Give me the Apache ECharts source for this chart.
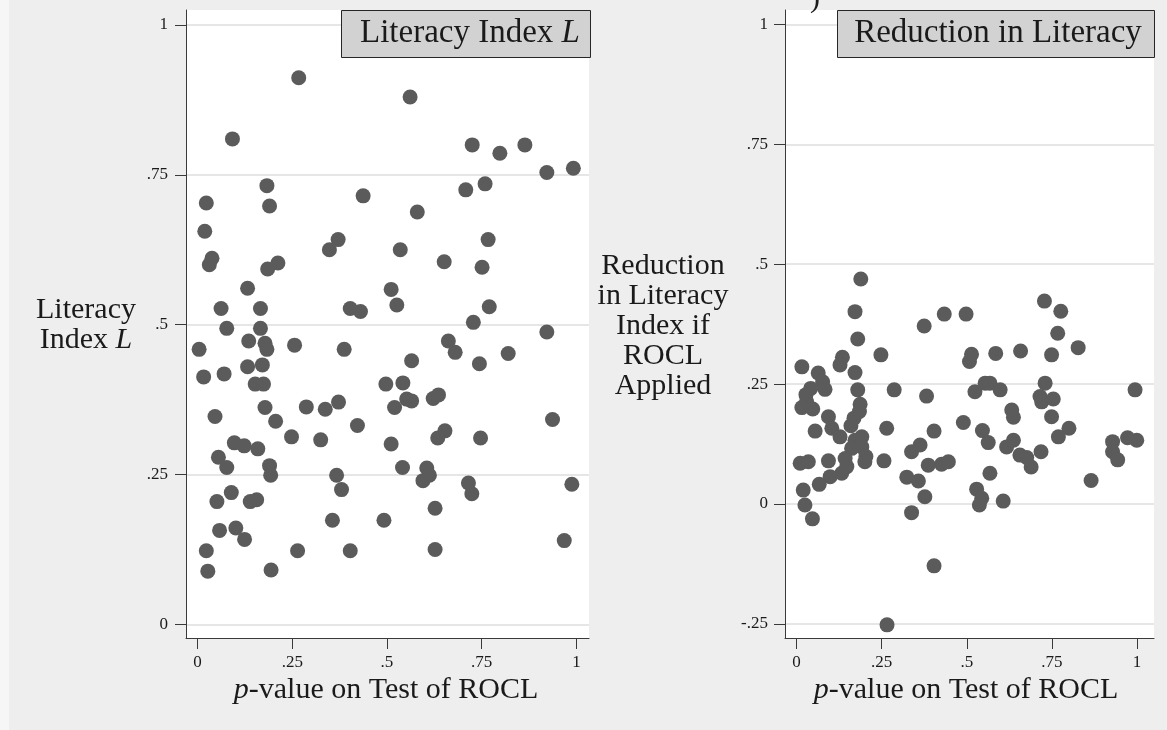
<!DOCTYPE html>
<html>
<head>
<meta charset="utf-8">
<script src="https://cdn.jsdelivr.net/npm/echarts@6/dist/echarts.min.js"></script>
<style>
  html, body { margin: 0; padding: 0; background: #eeeeee; }
  #chart { width: 1167px; height: 730px; }
</style>
</head>
<body>
<div id="chart"></div>
<script>
// Tick values for each axis
const pTicks = [0, 0.25, 0.5, 0.75, 1];
const literacyTicks = [0, 0.25, 0.5, 0.75, 1];
const reductionTicks = [-0.25, 0, 0.25, 0.5, 0.75, 1];

// [p-value on test of ROCL, literacy index L]
const literacyPoints = [
  [0.267, 0.912], [0.092, 0.810], [0.183, 0.732], [0.023, 0.703], [0.190, 0.698],
  [0.437, 0.715], [0.019, 0.656], [0.371, 0.642], [0.348, 0.625], [0.038, 0.611],
  [0.031, 0.600], [0.212, 0.603], [0.185, 0.593], [0.132, 0.561], [0.062, 0.527],
  [0.166, 0.527], [0.403, 0.527], [0.430, 0.522], [0.511, 0.559],
  [0.561, 0.880], [0.725, 0.800], [0.798, 0.786], [0.864, 0.800], [0.922, 0.754],
  [0.992, 0.761], [0.759, 0.735], [0.708, 0.725], [0.580, 0.688], [0.767, 0.642],
  [0.535, 0.625], [0.651, 0.605], [0.751, 0.596], [0.526, 0.533], [0.770, 0.530],
  [0.728, 0.504],
  [0.922, 0.488], [0.662, 0.473], [0.680, 0.454], [0.820, 0.452], [0.565, 0.440],
  [0.744, 0.435], [0.542, 0.403], [0.497, 0.401], [0.552, 0.376], [0.565, 0.373],
  [0.520, 0.362], [0.622, 0.377], [0.636, 0.383], [0.937, 0.342], [0.653, 0.323],
  [0.634, 0.311], [0.747, 0.311], [0.511, 0.301], [0.541, 0.262], [0.605, 0.261],
  [0.612, 0.249], [0.595, 0.240], [0.715, 0.236], [0.724, 0.218], [0.988, 0.234],
  [0.627, 0.194], [0.492, 0.174], [0.968, 0.140], [0.627, 0.125],
  [0.077, 0.494], [0.166, 0.494], [0.135, 0.473], [0.178, 0.469], [0.183, 0.459],
  [0.004, 0.459], [0.256, 0.466], [0.387, 0.459], [0.132, 0.430], [0.171, 0.433],
  [0.016, 0.413], [0.070, 0.418], [0.152, 0.401], [0.174, 0.401], [0.046, 0.347],
  [0.178, 0.362], [0.206, 0.339], [0.287, 0.363], [0.337, 0.359], [0.372, 0.371],
  [0.422, 0.332], [0.248, 0.313], [0.325, 0.308], [0.097, 0.303], [0.123, 0.298],
  [0.159, 0.293], [0.055, 0.279], [0.077, 0.262], [0.190, 0.265], [0.193, 0.249],
  [0.367, 0.249], [0.380, 0.225], [0.089, 0.220], [0.051, 0.205], [0.139, 0.205],
  [0.156, 0.208], [0.356, 0.174], [0.058, 0.157], [0.101, 0.161], [0.124, 0.142],
  [0.023, 0.123], [0.264, 0.123], [0.403, 0.123], [0.027, 0.089], [0.194, 0.091]
];

// [p-value on test of ROCL, reduction in literacy index if ROCL applied]
const reductionPoints = [
  [0.189, 0.469], [0.172, 0.401], [0.180, 0.344], [0.248, 0.311], [0.375, 0.371],
  [0.434, 0.396], [0.498, 0.396], [0.135, 0.306], [0.128, 0.290], [0.016, 0.286],
  [0.172, 0.274], [0.064, 0.273], [0.077, 0.255], [0.084, 0.239], [0.180, 0.238],
  [0.287, 0.238], [0.382, 0.225], [0.524, 0.234], [0.514, 0.312], [0.508, 0.297],
  [0.042, 0.241], [0.028, 0.228], [0.030, 0.213], [0.016, 0.201], [0.048, 0.198],
  [0.187, 0.208], [0.185, 0.193], [0.169, 0.179], [0.160, 0.163], [0.192, 0.140],
  [0.172, 0.133], [0.162, 0.116], [0.192, 0.119], [0.204, 0.099], [0.201, 0.088],
  [0.143, 0.095], [0.148, 0.078], [0.133, 0.064], [0.099, 0.057], [0.067, 0.041],
  [0.094, 0.182], [0.104, 0.158], [0.128, 0.140], [0.055, 0.152], [0.265, 0.158],
  [0.257, 0.090], [0.094, 0.090], [0.011, 0.085], [0.035, 0.088], [0.020, 0.029],
  [0.025, -0.002], [0.047, -0.031], [0.338, 0.109], [0.363, 0.123], [0.404, 0.152],
  [0.490, 0.170], [0.387, 0.081], [0.426, 0.083], [0.446, 0.088], [0.324, 0.056],
  [0.358, 0.048], [0.377, 0.015], [0.338, -0.018],
  [0.728, 0.423], [0.776, 0.402], [0.767, 0.356], [0.827, 0.326], [0.749, 0.311],
  [0.658, 0.319], [0.585, 0.314], [0.554, 0.252], [0.568, 0.252], [0.598, 0.238],
  [0.730, 0.252], [0.715, 0.224], [0.720, 0.213], [0.754, 0.219], [0.994, 0.238],
  [0.632, 0.196], [0.637, 0.181], [0.749, 0.182], [0.546, 0.153], [0.563, 0.128],
  [0.800, 0.158], [0.769, 0.140], [0.617, 0.119], [0.637, 0.133], [0.656, 0.102],
  [0.676, 0.097], [0.689, 0.077], [0.718, 0.109], [0.928, 0.130], [0.928, 0.109],
  [0.943, 0.092], [0.972, 0.138], [0.999, 0.133], [0.865, 0.049], [0.568, 0.064],
  [0.529, 0.031], [0.544, 0.012], [0.537, -0.002], [0.607, 0.006], [0.404, -0.129],
  [0.266, -0.252]
];

const FONT = '"Liberation Serif", "DejaVu Serif", serif';
const INK = '#1a1a1a';
const AXIS = '#3a3a3a';
const MARKER = '#5b5b5b';

// Stata-style numbers: drop the leading zero (.25, -.25)
function stataNum(v) {
  return String(v).replace(/^(-?)0\./, '$1.');
}

function valueAxis(gridIndex, min, max, ticks, labelMargin, gridLines) {
  return {
    type: 'value',
    gridIndex: gridIndex,
    min: min,
    max: max,
    axisLine: { show: true, onZero: false, lineStyle: { color: AXIS, width: 1 } },
    axisTick: { show: true, length: 11, customValues: ticks, lineStyle: { color: AXIS, width: 1 } },
    axisLabel: {
      customValues: ticks, formatter: stataNum, margin: labelMargin,
      fontFamily: FONT, fontSize: 17, color: INK
    },
    splitLine: { show: gridLines, lineStyle: { color: '#e6e6e6', width: 2 } }
  };
}

function scatter(axisIndex, data) {
  return {
    type: 'scatter',
    xAxisIndex: axisIndex,
    yAxisIndex: axisIndex,
    data: data,
    symbol: 'circle',
    symbolSize: 15,
    itemStyle: { color: MARKER, opacity: 1 },
    silent: true
  };
}

function label(x, y, text, size) {
  return {
    type: 'text', x: x, y: y, z: 110,
    style: {
      text: text, fill: INK, font: size + 'px ' + FONT,
      align: 'center', verticalAlign: 'middle', lineHeight: 30,
      rich: { i: { fontStyle: 'italic', fontSize: size, fontFamily: FONT, fill: INK } }
    }
  };
}

function headerBox(x, w) {
  return {
    type: 'rect', z: 100,
    shape: { x: x, y: 10.5, width: w, height: 47 },
    style: { fill: '#d2d2d2', stroke: '#262626', lineWidth: 1 }
  };
}

const chart = echarts.init(document.getElementById('chart'), null, { renderer: 'canvas' });

chart.setOption({
  animation: false,
  backgroundColor: '#eeeeee',
  grid: [
    { left: 186, top: 10, width: 403, height: 628, show: true, backgroundColor: '#ffffff', borderWidth: 0 },
    { left: 785, top: 10, width: 369, height: 628, show: true, backgroundColor: '#ffffff', borderWidth: 0 }
  ],
  xAxis: [
    valueAxis(0, -0.0306, 1.0333, pTicks, 16, false),
    valueAxis(1, -0.0335, 1.0496, pTicks, 16, false)
  ],
  yAxis: [
    valueAxis(0, -0.0225, 1.025, literacyTicks, 18, true),
    valueAxis(1, -0.2794, 1.030, reductionTicks, 17, true)
  ],
  series: [
    scatter(0, literacyPoints),
    scatter(1, reductionPoints)
  ],
  graphic: [
    { type: 'rect', z: 1, shape: { x: 0, y: 0, width: 9, height: 730 }, style: { fill: '#f6f6f6' } },
    headerBox(341.5, 249),
    label(470, 33, 'Literacy Index {i|L}', 33),
    headerBox(837.5, 317),
    label(998, 33, 'Reduction in Literacy', 33),
    label(86, 325, 'Literacy\nIndex {i|L}', 30),
    label(663, 326, 'Reduction\nin Literacy\nIndex if\nROCL\nApplied', 30),
    label(386, 690, '{i|p}-value on Test of ROCL', 30),
    label(966, 690, '{i|p}-value on Test of ROCL', 30),
    label(815, -1, ')', 30)
  ]
});
</script>
</body>
</html>
